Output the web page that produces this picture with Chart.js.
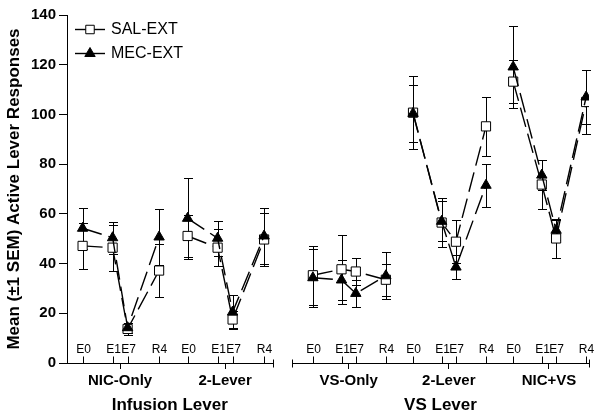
<!DOCTYPE html>
<html>
<head>
<meta charset="utf-8">
<script src="https://cdn.jsdelivr.net/npm/chart.js@4.4.0/dist/chart.umd.min.js"></script>
<style>
body { margin: 0; background: #fff; }
#wrap { position: relative; width: 600px; height: 418px; }
#leftChart { position: absolute; left: 0; top: 0; }
#rightChart { position: absolute; left: 280px; top: 0; }
</style>
</head>
<body>
<div id="wrap">
<canvas id="leftChart" width="280" height="418"></canvas>
<canvas id="rightChart" width="320" height="418"></canvas>
</div>
<script>
var sessions = ["E0", "E1", "E7", "R4"];
// session x value inside a group (uneven, like the original axis)
var sessionX = [0, 1, 1.5, 2.55];
var groupStep = 3.5;

var leftGroups = ["NIC-Only", "2-Lever"];
var rightGroups = ["VS-Only", "2-Lever", "NIC+VS"];
var yTicks = [0, 20, 40, 60, 80, 100, 120, 140];

// Infusion Lever
var salLeft = [[47.1, 46.4, 13.7, 37.2], [51.1, 46.4, 17.5, 49.7]];
var salLeftSem = [[9.2, 9.2, 2.5, 10.6], [8.3, 7.5, 3.5, 10.8]];
var mecLeft = [[54.2, 50.4, 14.2, 50.7], [58.2, 50.2, 20.5, 51.1]];
var mecLeftSem = [[8.3, 6.4, 2.0, 11.1], [16.3, 7.1, 7.0, 11.4]];

// VS Lever
var salRight = [[35.3, 37.7, 36.8, 33.5], [100.7, 56.5, 48.8, 95.2], [113.2, 71.8, 50.1, 105.0]];
var salRightSem = [[11.8, 13.8, 5.3, 6.4], [14.7, 10.0, 8.7, 12.0], [8.6, 9.7, 8.0, 13.0]];
var mecRight = [[34.3, 33.4, 28.0, 35.1], [100.4, 57.0, 38.6, 71.5], [119.1, 75.6, 53.4, 107.0]];
var mecRightSem = [[11.7, 8.0, 5.5, 9.5], [11.5, 8.0, 5.0, 8.6], [16.5, 6.2, 4.0, 11.0]];

var fontFam = "Arial, 'Liberation Sans', sans-serif";

function buildSets(groups, sal, salSem, mec, mecSem){
    var sets = [];
    groups.forEach(function(g, gi){
        // MEC first so the triangles sit on top of the squares
        sets.push({
            label: "MEC-EXT",
            data: sessions.map(function(s, i){ return {x: gi * groupStep + sessionX[i], y: mec[gi][i]}; }),
            sem: mecSem[gi],
            borderColor: "#000",
            backgroundColor: "#000",
            borderWidth: 1.4,
            borderDash: [20, 7],
            pointStyle: "triangle",
            pointRadius: 6,
            pointBorderWidth: 1,
            pointBackgroundColor: "#000",
            pointBorderColor: "#000",
            tension: 0
        });
        sets.push({
            label: "SAL-EXT",
            data: sessions.map(function(s, i){ return {x: gi * groupStep + sessionX[i], y: sal[gi][i]}; }),
            sem: salSem[gi],
            borderColor: "#000",
            backgroundColor: "#fff",
            borderWidth: 1.4,
            borderDash: [20, 7],
            pointStyle: "rect",
            pointRadius: 6.5,
            pointBorderWidth: 1,
            pointBackgroundColor: "#fff",
            pointBorderColor: "#000",
            tension: 0
        });
    });
    return sets;
}

var errorBars = {
    id: "errorBars",
    beforeDatasetsDraw: function(chart){
        var ctx = chart.ctx, xs = chart.scales.x, ys = chart.scales.y;
        ctx.save();
        ctx.strokeStyle = "#000";
        ctx.lineWidth = 1;
        chart.data.datasets.forEach(function(ds){
            ds.data.forEach(function(p, i){
                var x = Math.round(xs.getPixelForValue(p.x)) + 0.5;
                var yTop = Math.round(ys.getPixelForValue(p.y + ds.sem[i])) + 0.5;
                var yBot = Math.round(ys.getPixelForValue(p.y - ds.sem[i])) + 0.5;
                ctx.beginPath();
                ctx.moveTo(x, yTop); ctx.lineTo(x, yBot);
                ctx.moveTo(x - 4.5, yTop); ctx.lineTo(x + 4.5, yTop);
                ctx.moveTo(x - 4.5, yBot); ctx.lineTo(x + 4.5, yBot);
                ctx.stroke();
            });
        });
        ctx.restore();
    }
};

// session ticks point up into the plot, labels sit above the axis
var sessionAxis = {
    id: "sessionAxis",
    afterDraw: function(chart, args, opts){
        var ctx = chart.ctx, xs = chart.scales.x, area = chart.chartArea;
        var yb = Math.round(area.bottom) + 0.5;
        ctx.save();
        ctx.strokeStyle = "#000";
        ctx.fillStyle = "#000";
        ctx.lineWidth = 1;
        ctx.font = "12px " + fontFam;
        ctx.textAlign = "center";
        ctx.textBaseline = "middle";
        opts.groups.forEach(function(g, gi){
            sessions.forEach(function(s, i){
                var x = Math.round(xs.getPixelForValue(gi * groupStep + sessionX[i])) + 0.5;
                ctx.beginPath();
                ctx.moveTo(x, yb); ctx.lineTo(x, yb - 7);
                ctx.stroke();
                ctx.fillText(s, x, yb - 14);
            });
        });
        // end marks of the axis segment
        var ends = [];
        if (opts.capLeft) ends.push(area.left);
        ends.push(area.right);
        ends.forEach(function(e){
            var x = Math.round(e) + 0.5;
            ctx.beginPath();
            ctx.moveTo(x, yb - 4); ctx.lineTo(x, yb + 4);
            ctx.stroke();
        });
        ctx.restore();
    }
};

var legendBox = {
    id: "legendBox",
    afterDraw: function(chart){
        var ctx = chart.ctx;
        var items = [{text: "SAL-EXT", style: "rect", fill: "#fff", y: 29}, {text: "MEC-EXT", style: "triangle", fill: "#000", y: 53}];
        ctx.save();
        items.forEach(function(it){
            ctx.strokeStyle = "#000";
            ctx.lineWidth = 1.4;
            ctx.beginPath();
            ctx.moveTo(75, it.y + 0.5); ctx.lineTo(105, it.y + 0.5);
            ctx.stroke();
            ctx.fillStyle = it.fill;
            ctx.lineWidth = 1;
            Chart.helpers.drawPoint(ctx, {pointStyle: it.style, radius: 6, rotation: 0, borderWidth: 1}, 90, it.y + 0.5);
            ctx.fillStyle = "#000";
            ctx.font = "16px " + fontFam;
            ctx.textAlign = "left";
            ctx.textBaseline = "middle";
            ctx.fillText(it.text, 111, it.y + 1);
        });
        ctx.restore();
    }
};

function xAxis(groups, min, max, title){
    return {
        type: "linear",
        min: min,
        max: max,
        afterBuildTicks: function(scale){
            scale.ticks = groups.map(function(g, gi){ return {value: gi * groupStep + 1.25}; });
        },
        afterFit: function(scale){ scale.height = 55; },
        ticks: {
            autoSkip: false,
            maxRotation: 0,
            padding: 3,
            color: "#000",
            font: {family: fontFam, size: 15, weight: "bold"},
            callback: function(v, i){ return groups[i]; }
        },
        grid: {drawOnChartArea: false, tickLength: 6, color: "#000", lineWidth: 1},
        border: {color: "#000", width: 1},
        title: {
            display: true,
            text: title,
            color: "#000",
            font: {family: fontFam, size: 17, weight: "bold"},
            padding: {top: 0, bottom: 2}
        }
    };
}

function displayLeftChart(){
    var ctx = document.getElementById("leftChart").getContext("2d");
    new Chart(ctx, {
        type: "line",
        data: {datasets: buildSets(leftGroups, salLeft, salLeftSem, mecLeft, mecLeftSem)},
        options: {
            responsive: false,
            animation: false,
            layout: {padding: {top: 15, right: 6, bottom: 0, left: 0}},
            plugins: {
                legend: {display: false},
                tooltip: {enabled: false},
                sessionAxis: {groups: leftGroups, capLeft: false}
            },
            scales: {
                x: xAxis(leftGroups, -0.52, 6.33, "Infusion Lever"),
                y: {
                    min: 0,
                    max: 140,
                    afterBuildTicks: function(scale){
                        scale.ticks = yTicks.map(function(v){ return {value: v}; });
                    },
                    afterFit: function(scale){ scale.width = 67; },
                    ticks: {color: "#000", padding: 3, font: {family: fontFam, size: 15, weight: "bold"}},
                    grid: {drawOnChartArea: false, tickLength: 8, color: "#000"},
                    border: {color: "#000", width: 1},
                    title: {
                        display: true,
                        text: "Mean (\u00b11 SEM) Active Lever Responses",
                        color: "#000",
                        font: {family: fontFam, size: 17, weight: "bold"},
                        padding: {top: 4, bottom: 0}
                    }
                }
            }
        },
        plugins: [errorBars, sessionAxis, legendBox]
    });
}

function displayRightChart(){
    var ctx = document.getElementById("rightChart").getContext("2d");
    new Chart(ctx, {
        type: "line",
        data: {datasets: buildSets(rightGroups, salRight, salRightSem, mecRight, mecRightSem)},
        options: {
            responsive: false,
            animation: false,
            layout: {padding: {top: 15, right: 11, bottom: 0, left: 12}},
            plugins: {
                legend: {display: false},
                tooltip: {enabled: false},
                sessionAxis: {groups: rightGroups, capLeft: true}
            },
            scales: {
                x: xAxis(rightGroups, -0.73, 9.65, "VS Lever"),
                y: {min: 0, max: 140, display: false}
            }
        },
        plugins: [errorBars, sessionAxis]
    });
}

displayLeftChart();
displayRightChart();
</script>
</body>
</html>
